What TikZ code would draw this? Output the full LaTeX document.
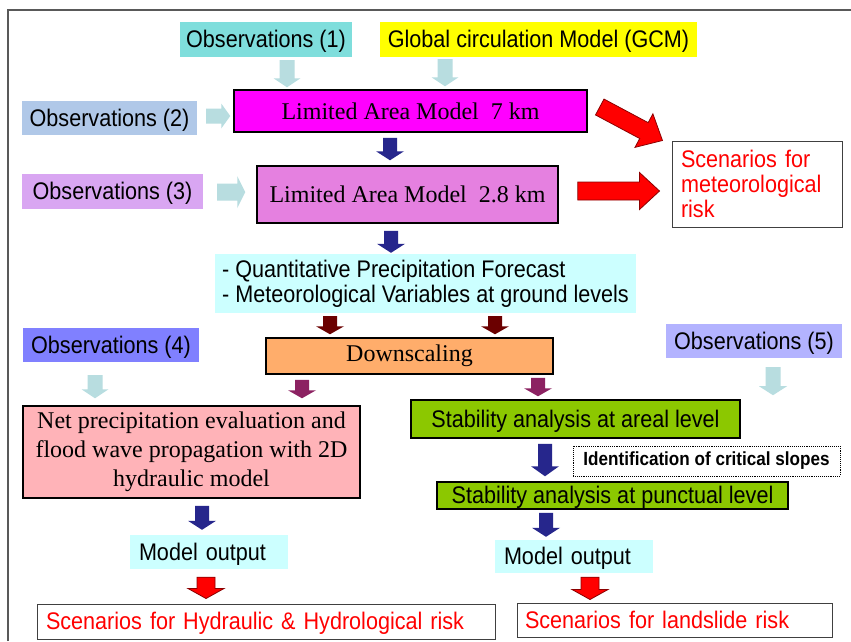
\documentclass[tikz,border=0pt]{standalone}
\usepackage{fontspec}
\setmainfont{Liberation Serif}
\setsansfont{Liberation Sans}[FakeStretch=0.9]
\usetikzlibrary{calc}
\definecolor{obsone}{HTML}{7FDEDC}
\definecolor{gcmyel}{HTML}{FFFF00}
\definecolor{lamsev}{HTML}{FF00FF}
\definecolor{obstwo}{HTML}{B0C8E8}
\definecolor{obsthree}{HTML}{D9A6F2}
\definecolor{lamtwo}{HTML}{E580E0}
\definecolor{qpfcyan}{HTML}{CCFFFF}
\definecolor{downor}{HTML}{FFAD6B}
\definecolor{obsfour}{HTML}{8080FF}
\definecolor{obsfive}{HTML}{B3B3FF}
\definecolor{netpink}{HTML}{FFB3B8}
\definecolor{stabgreen}{HTML}{8CC800}
\definecolor{lightarr}{HTML}{B8DDE0}
\definecolor{bluearr}{HTML}{26268C}
\definecolor{darkredarr}{HTML}{6B0000}
\definecolor{purplearr}{HTML}{8C2262}
\definecolor{redoutline}{HTML}{8B0000}
\definecolor{framegray}{HTML}{595959}
\newcommand\blockarrow[6]{%
  \path #2 coordinate (baS) #3 coordinate (baE);
  \path let \p1=($(baE)-(baS)$) in \pgfextra{%
    \pgfmathsetmacro\baAng{atan2(\y1,\x1)}%
    \pgfmathsetmacro\baLen{veclen(\x1,\y1)}%
    \global\let\baAng\baAng\global\let\baLen\baLen};
  \begin{scope}[shift={(baS)}, rotate=\baAng]
    \path[#1] (0,-#4) -- ({\baLen-#6},-#4) -- ({\baLen-#6},-#5) -- (\baLen,0)
      -- ({\baLen-#6},#5) -- ({\baLen-#6},#4) -- (0,#4) -- cycle;
  \end{scope}}
\begin{document}
\begin{tikzpicture}[x=1pt,y=-1pt,
  sanstxt/.style={font=\sffamily\fontsize{24}{25}\selectfont},
  oneline/.style={text height=18, text depth=2},
  sertxt/.style={font=\rmfamily\fontsize{24}{29}\selectfont},
  plainbox/.style={inner sep=0pt, sanstxt, oneline},
  framedbox/.style={inner sep=0pt, draw=black, line width=1.5},
  scenbox/.style={inner sep=0pt, draw=black!75, line width=1, fill=white, text=red, sanstxt},
  lightA/.style={fill=lightarr},
  blueA/.style={fill=bluearr},
  dredA/.style={fill=darkredarr},
  purpA/.style={fill=purplearr},
  redA/.style={fill=red, draw=redoutline, line width=0.8}]
\useasboundingbox (0,0) rectangle (851,641);
\fill[white] (0,0) rectangle (851,641);
\draw[framegray, line width=2] (8,641) -- (8,10) -- (851,10);

% nodes
\node[plainbox, fill=obsone, minimum width=172, minimum height=35] (obs1) at (266,39.5) {Observations (1)};
\node[plainbox, fill=gcmyel, minimum width=317, minimum height=35] (gcm) at (538.5,39.5) {Global circulation Model (GCM)};
\node[framedbox, sertxt, fill=lamsev, minimum width=353, minimum height=42] (lam7) at (410.5,111) {Limited Area Model\ \ 7 km};
\node[plainbox, fill=obstwo, minimum width=175, minimum height=34] (obs2) at (109.5,118) {Observations (2)};
\node[plainbox, fill=obsthree, minimum width=181, minimum height=35] (obs3) at (112.5,191.5) {Observations (3)};
\node[framedbox, sertxt, fill=lamtwo, minimum width=301, minimum height=57] (lam28) at (407.5,194.5) {Limited Area Model\ \ 2.8 km};
\node[scenbox, minimum width=170, minimum height=86, text width=152, inner xsep=9, align=left] (met) at (757,184) {Scenarios for\\meteorological\\risk};
\node[inner sep=0pt, sanstxt, fill=qpfcyan, minimum width=421, minimum height=59, align=left] (qpf) at (425.5,283.5) {- Quantitative Precipitation Forecast\\- Meteorological Variables at ground levels};
\node[framedbox, sertxt, fill=downor, minimum width=287, minimum height=36] (down) at (409.5,356) {Downscaling};
\node[plainbox, fill=obsfour, minimum width=176, minimum height=34] (obs4) at (111,345) {Observations (4)};
\node[plainbox, fill=obsfive, minimum width=176, minimum height=34] (obs5) at (754,341) {Observations (5)};
\node[framedbox, sertxt, fill=netpink, minimum width=337, minimum height=92, align=center] (net) at (191.5,452) {Net precipitation evaluation and\\flood wave propagation with 2D\\hydraulic model};
\node[framedbox, sanstxt, oneline, fill=stabgreen, minimum width=329, minimum height=38] (areal) at (575.5,419) {Stability analysis at areal level};
\node[inner sep=0pt, draw=black, densely dotted, line width=0.9, minimum width=267, minimum height=30, font=\sffamily\bfseries\fontsize{19}{22}\selectfont] (ident) at (706.5,461) {Identification of critical slopes};
\node[framedbox, sanstxt, oneline, fill=stabgreen, minimum width=351, minimum height=27] (punct) at (612.5,495.5) {Stability analysis at punctual level};
\node[plainbox, fill=qpfcyan, minimum width=158, minimum height=34, text width=140, inner xsep=9, align=left] (mol) at (209,552) {Model output};
\node[plainbox, fill=qpfcyan, minimum width=158, minimum height=33, text width=140, inner xsep=9, align=left] (mor) at (574,556.5) {Model output};
\node[scenbox, oneline, minimum width=458, minimum height=35, text width=440, inner xsep=9, align=left] (hyd) at (266,621.5) {Scenarios for Hydraulic \& Hydrological risk};
\node[scenbox, oneline, minimum width=315, minimum height=34, text width=299, inner xsep=8, align=left] (land) at (674.5,620) {Scenarios for landslide risk};
\coordinate (obs5end) at ($(obs5.south)+(19,37)$);

% arrows
\blockarrow{lightA}{($(obs1.south)+(21,3)$)}{($(lam7.north)+(-123.5,-2)$)}{7.5}{13.5}{9}
\blockarrow{lightA}{($(gcm.south)+(-93.5,2)$)}{($(lam7.north)+(34.5,-3)$)}{7.5}{13.5}{9}
\blockarrow{lightA}{($(obs2.east)+(9,-2)$)}{($(lam7.west)+(-3,5)$)}{7.5}{12.5}{9}
\blockarrow{lightA}{($(obs3.east)+(14,0.5)$)}{($(lam28.west)+(-11,-2.5)$)}{8.5}{16}{8}
\blockarrow{blueA}{($(lam7.south)+(-20.5,5)$)}{($(lam28.north)+(-17.5,-5)$)}{7}{14}{9}
\blockarrow{blueA}{($(lam28.south)+(-16.5,7)$)}{($(qpf.north)+(-34.5,-1)$)}{7}{14}{9}
\blockarrow{redA}{($(lam7.east)+(12,-4)$)}{($(met.north west)+(-9,0)$)}{9}{19}{21}
\blockarrow{redA}{($(lam28.east)+(19,-3.5)$)}{($(met.west)+(-12,7)$)}{9}{18.5}{20}
\blockarrow{dredA}{($(qpf.south)+(-95.5,3)$)}{($(down.north)+(-79.5,-3)$)}{7}{14}{8}
\blockarrow{dredA}{($(qpf.south)+(69.5,3)$)}{($(down.north)+(85.5,-3)$)}{7}{14}{8}
\blockarrow{lightA}{($(obs4.south)+(-16,13)$)}{($(net.north)+(-96.5,-7)$)}{7.5}{13.5}{9}
\blockarrow{purpA}{($(down.south)+(-107.5,5)$)}{($(net.north)+(110.5,-7)$)}{7}{14}{8}
\blockarrow{purpA}{($(down.south)+(128.5,3)$)}{($(areal.north)+(-37.5,-3)$)}{7}{14}{8}
\blockarrow{lightA}{($(obs5.south)+(19,9)$)}{(obs5end)}{7.5}{14}{9}
\blockarrow{blueA}{($(areal.south)+(-30.5,5)$)}{($(punct.north)+(-67.5,-5)$)}{7}{14}{10}
\blockarrow{blueA}{($(net.south)+(10.5,7)$)}{($(mol.north)+(-7,-5)$)}{7}{14}{9}
\blockarrow{blueA}{($(punct.south)+(-66.5,3)$)}{($(mor.north)+(-28,-3)$)}{7}{14}{9}
\blockarrow{redA}{($(mol.south)+(-3,8)$)}{($(hyd.north)+(-60,-5)$)}{9}{18}{10}
\blockarrow{redA}{($(mor.south)+(16,4)$)}{($(land.north)+(-84.5,-3)$)}{9}{18}{10}
\end{tikzpicture}
\end{document}
